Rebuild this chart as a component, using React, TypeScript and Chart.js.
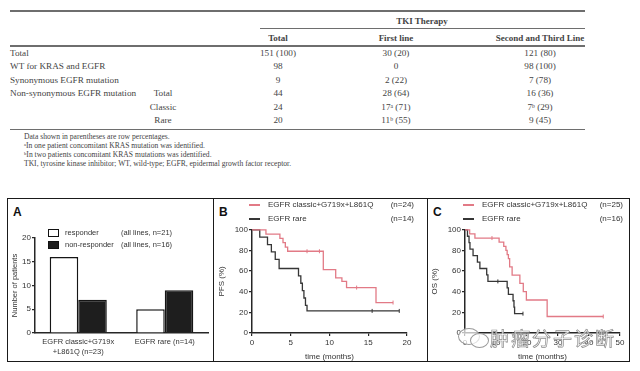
import React, { useEffect, useRef } from "react";
import { Chart, registerables } from "chart.js";

Chart.register(...registerables);

const SANS = "'Liberation Sans', Arial, sans-serif";
const SERIF = "'Liberation Serif', 'Times New Roman', serif";
const AXIS = "#262626";
const RED = "#e27a86";
const DARK = "#363636";
const TABLE_TEXT = "#444444";

// ---------------- table data ----------------
const tableGroupHeader = "TKI Therapy";
const tableColumns = ["Total", "First line", "Second and Third Line"];
const rowLabels = ["Total", "WT for KRAS and EGFR", "Synonymous EGFR mutation", "Non-synonymous EGFR mutation", "", ""];
const subRowLabels = ["", "", "", "Total", "Classic", "Rare"];
const totalValues = ["151 (100)", "98", "9", "44", "24", "20"];
const firstLineValues = ["30 (20)", "0", "2 (22)", "28 (64)", "17^a (71)", "11^b (55)"];
const secondLineValues = ["121 (80)", "98 (100)", "7 (78)", "16 (36)", "7^b (29)", "9 (45)"];
const footnotes = [
  "Data shown in parentheses are row percentages.",
  "^aIn one patient concomitant KRAS mutation was identified.",
  "^bIn two patients concomitant KRAS mutations was identified.",
  "TKI, tyrosine kinase inhibitor; WT, wild-type; EGFR, epidermal growth factor receptor.",
];

// ---------------- panel A data ----------------
const groupLabels = [["EGFR classic+G719x", "+L861Q (n=23)"], "EGFR rare (n=14)"];
const responderCounts = [16, 5];
const nonResponderCounts = [7, 9];
const legendANames = ["responder", "non-responder"];
const legendANotes = ["(all lines, n=21)", "(all lines, n=16)"];
const yMaxA = 20;
const yStepA = 5;

// ---------------- panel B data (PFS) ----------------
const pfsClassicTime = [0, 1.8, 3.6, 4.0, 4.3, 4.6, 9.2, 10.8, 11.6, 12.2, 16.0, 18.2];
const pfsClassicSurv = [100, 95.8, 91.7, 87.5, 83.3, 79.2, 61.5, 53.5, 50, 44, 29.5, 29.5];
const pfsClassicCensorTime = [7.1, 8.7, 13.5, 18.2];
const pfsClassicCensorSurv = [79.2, 79.2, 44, 29.5];
const pfsRareTime = [0, 1.0, 2.0, 2.5, 3.0, 3.5, 6.0, 6.3, 6.5, 6.7, 6.9, 7.1, 19.0];
const pfsRareSurv = [100, 92.9, 85.7, 78.6, 71.4, 62.5, 55.4, 48.2, 41.1, 33.9, 26.8, 21.4, 21.4];
const pfsRareCensorTime = [15.5, 19.0];
const pfsRareCensorSurv = [21.4, 21.4];
const pfsLegend = ["EGFR classic+G719x+L861Q", "EGFR rare"];
const pfsN = ["(n=24)", "(n=14)"];

// ---------------- panel C data (OS) ----------------
const osClassicTime = [0, 1.5, 3.2, 11.0, 12.5, 13.2, 13.6, 14.0, 14.4, 15.2, 17.7, 18.8, 19.8, 26.5, 44.6];
const osClassicSurv = [100, 96, 92, 88, 84, 80, 76, 72, 64, 56, 48, 40, 32, 16, 16];
const osClassicCensorTime = [8.7, 44.6];
const osClassicCensorSurv = [92, 16];
const osRareTime = [0, 0.8, 1.3, 1.6, 2.6, 4.0, 4.8, 7.0, 7.4, 13.6, 14.0, 15.5, 15.8, 16.0, 18.7];
const osRareSurv = [100, 93.75, 87.5, 81.25, 75, 68.75, 62.5, 56.25, 50, 43.75, 37.5, 31.25, 25, 18.75, 18.75];
const osRareCensorTime = [10.6, 18.7];
const osRareCensorSurv = [50, 18.75];
const osLegend = ["EGFR classic+G719x+L861Q", "EGFR rare"];
const osN = ["(n=25)", "(n=16)"];

const watermark = "肿瘤分子诊断";

// ---------------- helpers ----------------
function renderSup(s: string) {
  const parts = s.split(/\^(\w)/);
  return parts.map((p, i) =>
    i % 2 === 1 ? (
      <sup key={i} style={{ fontSize: "0.62em", verticalAlign: "0.5em", lineHeight: 0 }}>{p}</sup>
    ) : (
      <React.Fragment key={i}>{p}</React.Fragment>
    )
  );
}

const pts = (t: number[], s: number[]) => t.map((x, i) => ({ x, y: s[i] }));

function ChartCanvas({ left, top, width, height, makeConfig }: any) {
  const ref = useRef<HTMLCanvasElement>(null);
  useEffect(() => {
    const chart = new Chart(ref.current as HTMLCanvasElement, makeConfig());
    return () => chart.destroy();
  }, []);
  return (
    <canvas
      ref={ref}
      width={width}
      height={height}
      style={{ position: "absolute", left, top, width, height }}
    />
  );
}

const tickFont = { family: SANS, size: 8 };

function kmConfig(p: {
  lines: { t: number[]; s: number[]; color: string }[];
  censors: { t: number[]; s: number[]; color: string }[];
  xMax: number;
  xStep: number;
  yTitle: string;
  padRight: number;
}) {
  const datasets: any[] = [];
  p.lines.forEach((l) =>
    datasets.push({
      type: "line",
      data: pts(l.t, l.s),
      borderColor: l.color,
      borderWidth: 1.3,
      stepped: "before",
      pointRadius: 0,
      fill: false,
      clip: false,
    })
  );
  p.censors.forEach((c) =>
    datasets.push({
      type: "scatter",
      data: pts(c.t, c.s),
      pointStyle: "line",
      rotation: 90,
      pointRadius: 2,
      borderColor: c.color,
      borderWidth: 1,
      clip: false,
    })
  );
  return {
    type: "line",
    data: { datasets },
    options: {
      animation: false,
      responsive: false,
      maintainAspectRatio: false,
      layout: { padding: { top: 5, right: p.padRight, left: 0, bottom: 0 } },
      plugins: { legend: { display: false }, tooltip: { enabled: false } },
      scales: {
        x: {
          type: "linear",
          min: 0,
          max: p.xMax,
          ticks: { stepSize: p.xStep, font: tickFont, color: "#333", padding: 2, maxRotation: 0 },
          grid: { drawOnChartArea: false, tickLength: 3, color: AXIS, lineWidth: 1.2 },
          border: { color: AXIS, width: 1.5 },
          title: { display: true, text: "time (months)", font: { family: SANS, size: 8 }, color: "#333", padding: 0 },
          afterFit: (s: any) => {
            s.height = 29;
          },
        },
        y: {
          min: 0,
          max: 100,
          ticks: { stepSize: 20, font: tickFont, color: "#333", padding: 1 },
          grid: { drawOnChartArea: false, tickLength: 3, color: AXIS, lineWidth: 1.2 },
          border: { color: AXIS, width: 1.5 },
          title: { display: true, text: p.yTitle, font: { family: SANS, size: 8 }, color: "#333", padding: 0 },
          afterFit: (s: any) => {
            s.width = 35;
          },
        },
      },
    },
  };
}

function barConfig() {
  return {
    type: "bar",
    data: {
      labels: groupLabels,
      datasets: [
        {
          data: responderCounts,
          backgroundColor: "#ffffff",
          borderColor: "#151515",
          borderWidth: 1.5,
          categoryPercentage: 0.66,
          barPercentage: 1,
        },
        {
          data: nonResponderCounts,
          backgroundColor: "#1e1e1e",
          borderColor: "#151515",
          borderWidth: 1.5,
          categoryPercentage: 0.66,
          barPercentage: 1,
        },
      ],
    },
    options: {
      animation: false,
      responsive: false,
      maintainAspectRatio: false,
      layout: { padding: { top: 12, right: 3, left: 0, bottom: 0 } },
      plugins: { legend: { display: false }, tooltip: { enabled: false } },
      scales: {
        x: {
          ticks: { font: { family: SANS, size: 7.5, lineHeight: 1.3 }, color: "#333", padding: 4, maxRotation: 0, autoSkip: false },
          grid: { drawOnChartArea: false, drawTicks: false },
          border: { color: AXIS, width: 1.5 },
          afterFit: (s: any) => {
            s.height = 29;
          },
        },
        y: {
          min: 0,
          max: yMaxA,
          ticks: { stepSize: yStepA, font: tickFont, color: "#333", padding: 1 },
          grid: { drawOnChartArea: false, tickLength: 3, color: AXIS, lineWidth: 1.2 },
          border: { color: AXIS, width: 1.5 },
          title: { display: true, text: "Number of patients", font: { family: SANS, size: 7.5 }, color: "#333", padding: { top: 1, bottom: 0 } },
          afterFit: (s: any) => {
            s.width = 26;
          },
        },
      },
    },
  };
}

const abs = (left: number, top: number, extra: any = {}): any => ({
  position: "absolute",
  left,
  top,
  whiteSpace: "nowrap",
  lineHeight: 1,
  ...extra,
});

function Table() {
  const rowY0 = 54;
  const rowH = 13.4;
  const colX = [278, 396, 540];
  const hline = (y: number, x1: number, x2: number, w: number) => (
    <div style={{ position: "absolute", left: x1, top: y - w / 2, width: x2 - x1, height: w, background: "#6e6e6e" }} />
  );
  const cols = [totalValues, firstLineValues, secondLineValues];
  return (
    <div style={{ fontFamily: SERIF, color: TABLE_TEXT }}>
      {hline(11, 10, 585, 1.4)}
      {hline(28.5, 260, 585, 1)}
      {hline(46, 10, 585, 1.4)}
      {hline(129.5, 10, 585, 1.4)}
      <div style={abs(422, 21, { transform: "translate(-50%,-50%)", fontSize: 9, fontWeight: "bold" })}>{tableGroupHeader}</div>
      {tableColumns.map((c, i) => (
        <div key={c} style={abs(colX[i], 38, { transform: "translate(-50%,-50%)", fontSize: 9, fontWeight: "bold" })}>{c}</div>
      ))}
      {rowLabels.map((r, i) => (
        <div key={"r" + i} style={abs(10, rowY0 + i * rowH, { transform: "translate(0,-50%)", fontSize: 9.2 })}>{r}</div>
      ))}
      {subRowLabels.map((r, i) => (
        <div key={"s" + i} style={abs(163, rowY0 + i * rowH, { transform: "translate(-50%,-50%)", fontSize: 9.2 })}>{r}</div>
      ))}
      {cols.map((col, ci) =>
        col.map((v, i) => (
          <div key={ci + "-" + i} style={abs(colX[ci], rowY0 + i * rowH, { transform: "translate(-50%,-50%)", fontSize: 9.2 })}>
            {renderSup(v)}
          </div>
        ))
      )}
      {footnotes.map((f, i) => (
        <div key={"f" + i} style={abs(24, 137 + i * 9, { transform: "translate(0,-50%)", fontSize: 7.6 })}>{renderSup(f)}</div>
      ))}
    </div>
  );
}

function KmLegend({ x1, x2, names, ns }: any) {
  return (
    <div style={{ fontFamily: SANS, fontSize: 8, color: "#333" }}>
      {names.map((n: string, i: number) => (
        <React.Fragment key={n}>
          <div style={{ position: "absolute", left: x1 - 19, top: 205 + i * 14 - 0.75, width: 11, height: 1.5, background: i === 0 ? RED : DARK }} />
          <div style={abs(x1, 205 + i * 14, { transform: "translate(0,-50%)" })}>{n}</div>
          <div style={abs(x2, 205 + i * 14, { transform: "translate(-100%,-50%)" })}>{ns[i]}</div>
        </React.Fragment>
      ))}
    </div>
  );
}

export default function App() {
  return (
    <div style={{ position: "absolute", left: 0, top: 0, width: 640, height: 371, background: "#fff", overflow: "hidden" }}>
      <Table />

      {/* figure frame */}
      <div style={{ position: "absolute", left: 7, top: 198, width: 623, height: 164, border: "1.5px solid #1a1a1a", boxSizing: "border-box" }} />
      <div style={{ position: "absolute", left: 212.5, top: 198, width: 1.5, height: 164, background: "#1a1a1a" }} />
      <div style={{ position: "absolute", left: 426.5, top: 198, width: 1.5, height: 164, background: "#1a1a1a" }} />

      {/* panel letters */}
      {["A", "B", "C"].map((l, i) => (
        <div key={l} style={abs([13, 219, 433][i], 212, { transform: "translate(0,-50%)", fontFamily: SANS, fontWeight: "bold", fontSize: 12, color: "#111" })}>{l}</div>
      ))}

      {/* panel A */}
      <ChartCanvas left={9} top={226} width={202} height={136} makeConfig={barConfig} />
      <div style={{ fontFamily: SANS, fontSize: 7.5, color: "#333" }}>
        {legendANames.map((n, i) => (
          <React.Fragment key={n}>
            <div style={{ position: "absolute", left: 48, top: 229 + i * 12, width: 11, height: 8, boxSizing: "border-box", border: "1.3px solid #111", background: i === 0 ? "#fff" : "#1e1e1e" }} />
            <div style={abs(65, 233 + i * 12, { transform: "translate(0,-50%)" })}>{n}</div>
            <div style={abs(121, 233 + i * 12, { transform: "translate(0,-50%)" })}>{legendANotes[i]}</div>
          </React.Fragment>
        ))}
      </div>

      {/* panel B */}
      <ChartCanvas
        left={217}
        top={224}
        width={207}
        height={138}
        makeConfig={() =>
          kmConfig({
            lines: [
              { t: pfsClassicTime, s: pfsClassicSurv, color: RED },
              { t: pfsRareTime, s: pfsRareSurv, color: DARK },
            ],
            censors: [
              { t: pfsClassicCensorTime, s: pfsClassicCensorSurv, color: RED },
              { t: pfsRareCensorTime, s: pfsRareCensorSurv, color: DARK },
            ],
            xMax: 20,
            xStep: 5,
            yTitle: "PFS (%)",
            padRight: 17,
          })
        }
      />
      <KmLegend x1={268} x2={414} names={pfsLegend} ns={pfsN} />

      {/* panel C */}
      <ChartCanvas
        left={430}
        top={224}
        width={197}
        height={138}
        makeConfig={() =>
          kmConfig({
            lines: [
              { t: osClassicTime, s: osClassicSurv, color: RED },
              { t: osRareTime, s: osRareSurv, color: DARK },
            ],
            censors: [
              { t: osClassicCensorTime, s: osClassicCensorSurv, color: RED },
              { t: osRareCensorTime, s: osRareCensorSurv, color: DARK },
            ],
            xMax: 50,
            xStep: 10,
            yTitle: "OS (%)",
            padRight: 7,
          })
        }
      />
      <KmLegend x1={482} x2={623} names={osLegend} ns={osN} />

      {/* watermark */}
      <div style={{ position: "absolute", left: 458, top: 328, width: 20, height: 15, borderRadius: "50%", border: "1px solid #9a9a9a", background: "rgba(255,255,255,0.7)" }} />
      <div style={{ position: "absolute", left: 470, top: 333, width: 17, height: 13, borderRadius: "50%", border: "1px solid #9a9a9a", background: "rgba(255,255,255,0.7)" }} />
      <div
        style={abs(490, 337, {
          transform: "translate(0,-50%)",
          fontFamily: "'Noto Sans CJK SC', sans-serif",
          fontSize: 19,
          letterSpacing: 2,
          color: "rgba(255,255,255,0.85)",
          WebkitTextStroke: "0.7px #8c8c8c",
        })}
      >
        {watermark}
      </div>
    </div>
  );
}
